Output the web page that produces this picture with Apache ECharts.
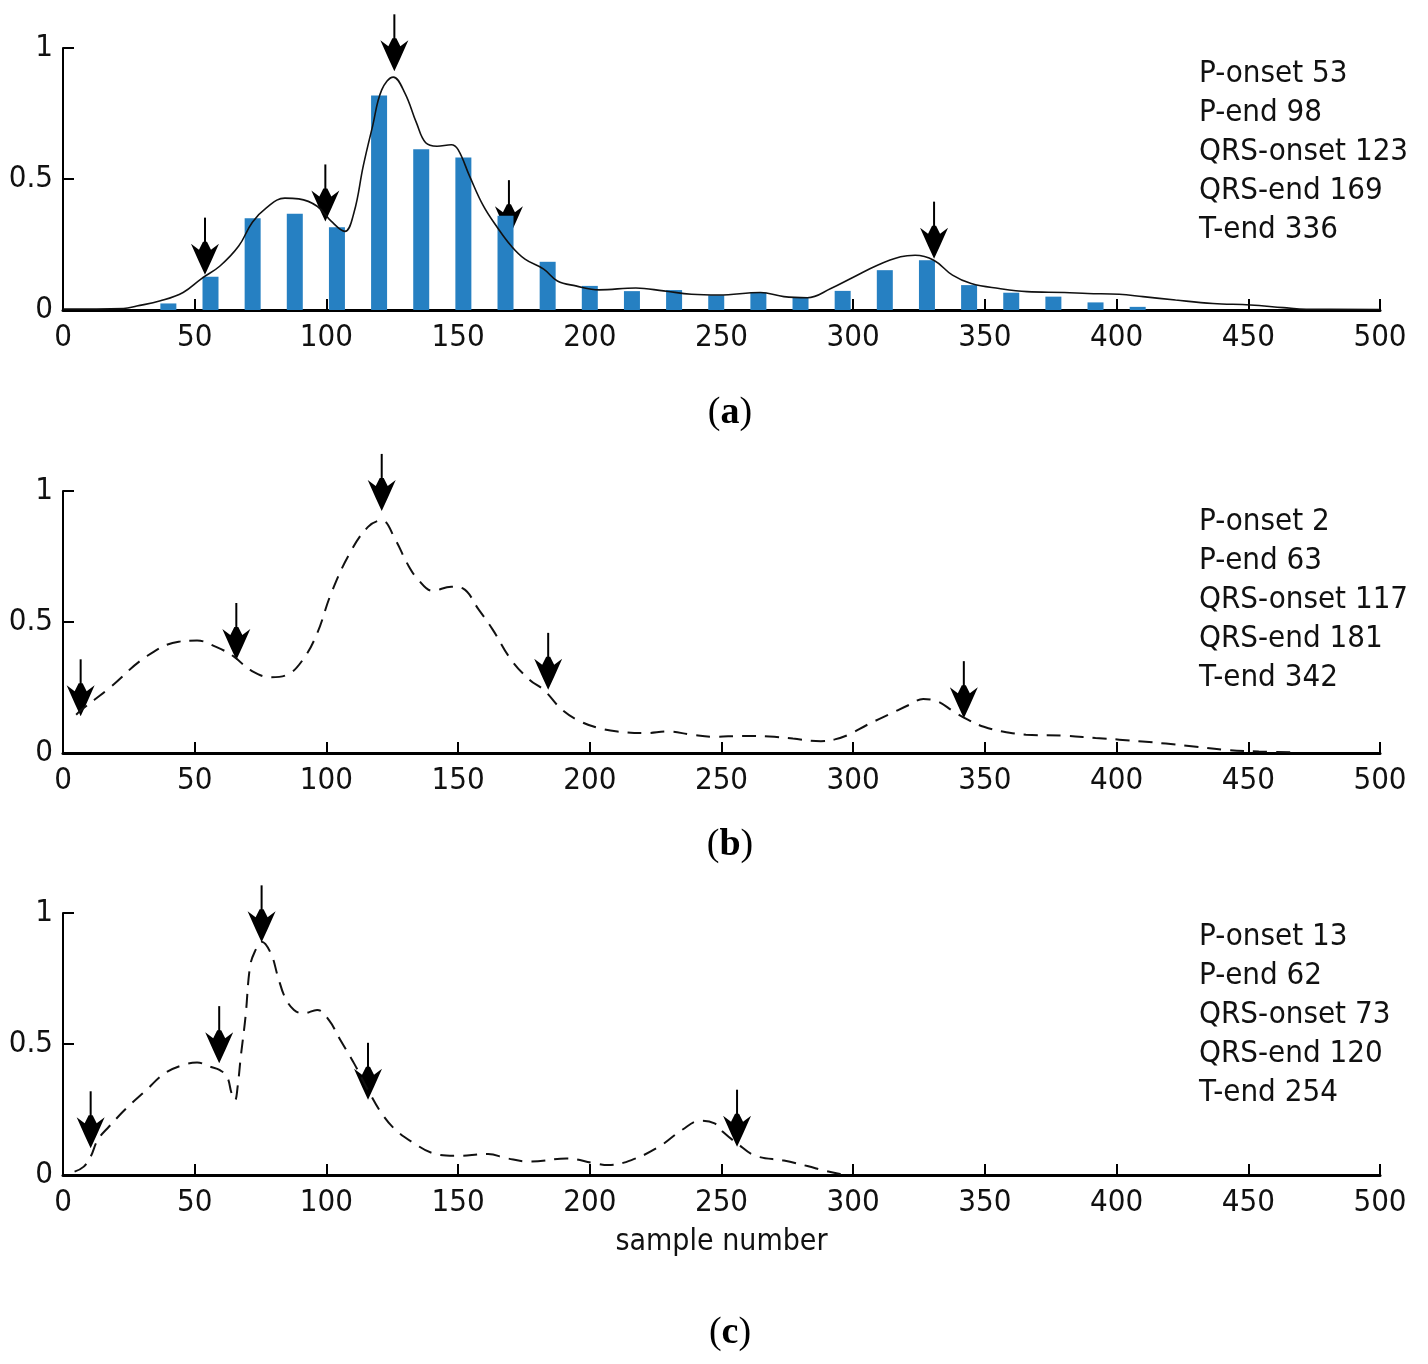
<!DOCTYPE html>
<html>
<head>
    <meta charset="utf-8">
    <title>ECG delineation</title>
    <script src="https://cdn.jsdelivr.net/npm/echarts@6/dist/echarts.min.js"></script>
    <style>
        html, body { margin: 0; padding: 0; background: #fff; }
        #main { width: 1428px; height: 1364px; }
    </style>
</head>
<body>
<div id="main"></div>
<script>
    // --- data ---
    var xTicks = [0, 50, 100, 150, 200, 250, 300, 350, 400, 450, 500];
    var yTicks = [0, 0.5, 1];

    // panel (a): histogram bins + smooth curve
    var barX = [8, 24, 40, 56, 72, 88, 104, 120, 136, 152, 168, 184, 200, 216, 232, 248, 264, 280, 296, 312, 328, 344, 360, 376, 392, 408];
    var barY = [0, 0, 0.025, 0.127, 0.35, 0.367, 0.316, 0.819, 0.614, 0.582, 0.36, 0.184, 0.092, 0.072, 0.076, 0.056, 0.067, 0.047, 0.073, 0.152, 0.19, 0.095, 0.066, 0.051, 0.029, 0.012];

    var curveA = [[0,0.004],[23,0.006],[28,0.015],[37,0.035],[45.6,0.067],[52.6,0.12],[59.6,0.168],[66.7,0.244],[71.9,0.335],[77.2,0.39],[84.2,0.427],[89.5,0.424],[96.5,0.396],[101.8,0.339],[107,0.3],[110.5,0.373],[114,0.55],[117.5,0.7],[121,0.84],[125.4,0.889],[129.8,0.828],[134.2,0.714],[137.7,0.638],[142,0.625],[147.4,0.631],[150,0.612],[154.4,0.51],[159.6,0.397],[164.9,0.315],[170.2,0.244],[175.4,0.194],[182.5,0.156],[187.7,0.111],[194.7,0.092],[203.5,0.077],[217.5,0.084],[228,0.073],[238.6,0.06],[249,0.057],[264.8,0.067],[273.7,0.051],[282.6,0.047],[291.5,0.082],[300.4,0.127],[309.2,0.171],[318,0.203],[323.5,0.209],[330.6,0.19],[337.7,0.133],[344.8,0.101],[355.4,0.082],[366,0.07],[380.2,0.067],[389,0.063],[401,0.06],[410,0.051],[422.4,0.038],[436.6,0.025],[450.8,0.019],[463.3,0.009],[472,0.003],[500,0.002]];

    var curveB = [[5,0.146],[7,0.165],[17.5,0.247],[31.6,0.368],[43.9,0.425],[50.9,0.429],[57.9,0.406],[64.9,0.368],[71,0.317],[79,0.289],[85,0.298],[91,0.355],[96.5,0.457],[101.8,0.609],[108.8,0.761],[115.8,0.863],[121,0.888],[126.3,0.812],[130.7,0.723],[135,0.66],[140.4,0.619],[147.4,0.635],[151.8,0.628],[157.9,0.546],[163.2,0.47],[170.2,0.355],[177.2,0.279],[182.5,0.241],[189.5,0.165],[196.5,0.12],[203.5,0.095],[210.5,0.082],[221,0.076],[229.8,0.082],[238.6,0.07],[247.4,0.062],[257.6,0.065],[268.2,0.063],[277.1,0.055],[287.7,0.045],[293,0.052],[298.3,0.07],[305.4,0.108],[314.2,0.15],[321.3,0.184],[326.6,0.206],[332,0.197],[338,0.159],[343.5,0.127],[349.6,0.1],[356.7,0.082],[365.6,0.07],[379.7,0.066],[392,0.057],[401,0.051],[409.8,0.044],[418.7,0.036],[429.3,0.025],[439.9,0.013],[454,0.006],[468.2,0.003]];

    var curveC = [[4.4,0.013],[7.9,0.032],[10.5,0.07],[13.2,0.134],[17.5,0.185],[24.6,0.26],[31.6,0.324],[38.6,0.388],[45.6,0.42],[50.9,0.429],[56,0.413],[59.6,0.4],[62.3,0.375],[64,0.312],[65.3,0.286],[66.3,0.337],[67.5,0.452],[69.3,0.605],[71,0.795],[72.8,0.852],[75.4,0.89],[78.9,0.846],[81.6,0.757],[84.2,0.68],[87.7,0.63],[91.2,0.617],[96.5,0.63],[100.9,0.592],[105.3,0.515],[110.5,0.426],[115.8,0.324],[121,0.235],[126.3,0.172],[133.3,0.121],[140.4,0.083],[149,0.073],[161.4,0.08],[168.4,0.064],[177.2,0.051],[191.2,0.063],[201.8,0.045],[207,0.038],[215.8,0.057],[226.3,0.108],[235,0.172],[242,0.207],[247.4,0.197],[250.5,0.165],[255.9,0.121],[263,0.073],[273.7,0.055],[282.6,0.034],[289.7,0.015],[295,0.004],[298.6,0.001]];

    // arrows: [x, y of tip]
    var arrowsA = [[53.9,0.135],[99.6,0.338],[125.8,0.911],[169.3,0.278],[330.7,0.196]];
    var arrowsB = [[6.7,0.14],[65.8,0.355],[121,0.924],[184.2,0.241],[342,0.133]];
    var arrowsC = [[10.5,0.102],[59.3,0.427],[75.4,0.888],[115.8,0.287],[255.9,0.108]];

    var labelsA = ['P-onset 53', 'P-end 98', 'QRS-onset 123', 'QRS-end 169', 'T-end 336'];
    var labelsB = ['P-onset 2', 'P-end 63', 'QRS-onset 117', 'QRS-end 181', 'T-end 342'];
    var labelsC = ['P-onset 13', 'P-end 62', 'QRS-onset 73', 'QRS-end 120', 'T-end 254'];

    var captions = ['a', 'b', 'c'];

    // --- chart ---
    var tickFont = '"DejaVu Sans Condensed", "Liberation Sans Narrow", sans-serif';
    var gridTops = [48, 491, 913];

    function renderArrow(params, api) {
        var p = api.coord([api.value(0), api.value(1)]);
        var x = p[0], y = p[1];
        return {
            type: 'group',
            children: [
                {type: 'line', shape: {x1: x, y1: y - 57, x2: x, y2: y - 20}, style: {stroke: '#000', lineWidth: 2}},
                {type: 'polygon', shape: {points: [[x, y], [x + 6, y - 13], [x + 14, y - 31], [x + 6, y - 25], [x + 2, y - 33], [x - 2, y - 33], [x - 6, y - 25], [x - 14, y - 31], [x - 6, y - 13]]},
                    style: {fill: '#000'}}
            ]
        };
    }

    var grids = [], xAxes = [], yAxes = [];
    for (var i = 0; i < 3; i++) {
        grids.push({left: 63, width: 1317, top: gridTops[i], height: 262});
        xAxes.push({
            type: 'value', gridIndex: i, min: 0, max: 500, interval: 50,
            axisLine: {lineStyle: {color: '#000', width: 3}},
            axisTick: {inside: true, length: 11, lineStyle: {color: '#000', width: 2}},
            axisLabel: {margin: 12, fontSize: 31, color: '#111', fontFamily: tickFont},
            splitLine: {show: false},
            name: i === 2 ? 'sample number' : '',
            nameLocation: 'middle', nameGap: 52,
            nameTextStyle: {fontSize: 30, color: '#111', fontFamily: tickFont}
        });
        yAxes.push({
            type: 'value', gridIndex: i, min: 0, max: 1, interval: 0.5,
            axisLine: {show: true, lineStyle: {color: '#000', width: 2}},
            axisTick: {show: true, inside: true, length: 11, lineStyle: {color: '#000', width: 2}},
            axisLabel: {margin: 10, fontSize: 31, color: '#111', fontFamily: tickFont},
            splitLine: {show: false}
        });
    }

    var dash = [14, 9];
    var series = [
        {type: 'custom', xAxisIndex: 0, yAxisIndex: 0, renderItem: renderArrow, data: arrowsA, z: 1, silent: true},
        {type: 'bar', xAxisIndex: 0, yAxisIndex: 0, barWidth: 16, z: 2,
            itemStyle: {color: '#2680c2'},
            data: barX.map(function (x, k) { return [x, barY[k]]; })},
        {type: 'line', xAxisIndex: 0, yAxisIndex: 0, data: curveA, smooth: 0.4, showSymbol: false, z: 3,
            lineStyle: {color: '#111', width: 1.6}},
        {type: 'line', xAxisIndex: 1, yAxisIndex: 1, data: curveB, smooth: 0.4, showSymbol: false,
            lineStyle: {color: '#111', width: 2, type: dash}},
        {type: 'custom', xAxisIndex: 1, yAxisIndex: 1, renderItem: renderArrow, data: arrowsB, silent: true},
        {type: 'line', xAxisIndex: 2, yAxisIndex: 2, data: curveC, smooth: 0.4, showSymbol: false,
            lineStyle: {color: '#111', width: 2, type: dash}},
        {type: 'custom', xAxisIndex: 2, yAxisIndex: 2, renderItem: renderArrow, data: arrowsC, silent: true}
    ];

    var labelTops = [54, 502, 917];
    var captionY = [413, 845, 1333];
    var titles = [];
    [labelsA, labelsB, labelsC].forEach(function (lab, k) {
        titles.push({
            left: 1199, top: labelTops[k], padding: 0,
            text: lab.join('\n'),
            textStyle: {fontSize: 31, fontWeight: 'normal', color: '#111', fontFamily: tickFont, lineHeight: 39}
        });
    });

    var graphics = captions.map(function (c, k) {
        return {
            type: 'text', x: 730, y: captionY[k],
            style: {
                text: '{p|(}{b|' + c + '}{p|)}',
                align: 'center', verticalAlign: 'middle',
                rich: {
                    p: {fontSize: 38, fontFamily: '"Liberation Serif", serif', fill: '#000'},
                    b: {fontSize: 38, fontWeight: 'bold', fontFamily: '"Liberation Serif", serif', fill: '#000'}
                }
            }
        };
    });

    var chart = echarts.init(document.getElementById('main'));
    chart.setOption({
        animation: false,
        backgroundColor: '#fff',
        title: titles,
        grid: grids,
        xAxis: xAxes,
        yAxis: yAxes,
        series: series,
        graphic: graphics
    });
</script>
</body>
</html>
